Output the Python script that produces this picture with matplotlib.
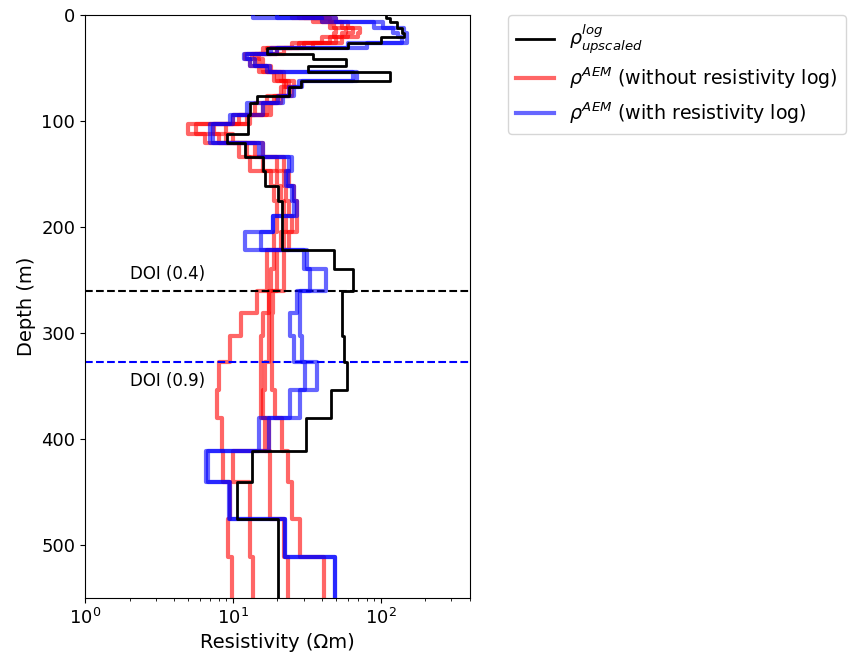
import numpy as np
import matplotlib.pyplot as plt

# layer boundaries (m), shared by the upscaled log and the AEM models
depth_edges = [0, 3, 7, 12, 17, 21, 26, 31, 36.5, 41, 48, 54, 62, 68, 76, 83,
               94, 103, 112, 121, 134, 147, 161, 175, 190, 205, 222, 240, 260,
               281, 303, 327, 354, 380, 411, 441, 475, 511, 550]

# upscaled resistivity log (Ohm m), one value per layer
rho_log = [108, 116, 128, 139, 143, 100, 60, 16.9, 35, 58, 32, 115, 29, 24,
           14.5, 13, 12.7, 12.7, 9.1, 12, 16, 16.5, 20.3, 21.4, 21.4, 21.4,
           48, 65, 54.6, 54.6, 56, 59, 46, 31, 13.5, 10.7, 20.3, 20.3]

# AEM inversions without the resistivity log
rho_aem_nolog = [
    [25, 40, 55, 65, 60, 45, 25, 17, 12, 13, 15, 19, 24, 24, 19, 14, 10, 5.0,
     6.5, 11, 13, 18, 19, 20, 20, 19, 17, 17, 14.5, 11.4, 9.5, 8.0, 7.8, 8.4,
     8.6, 9.5, 9.3, 9.8],
    [30, 45, 60, 72, 70, 55, 30, 20, 13.5, 14, 17, 21, 22, 22, 17, 16, 11, 5.6,
     8, 12.5, 16, 20, 21, 22, 23, 21, 19, 18, 17.4, 16, 15.5, 15.5, 15.5, 17.4,
     10, 13, 13, 13.7],
    [35, 50, 48, 58, 55, 40, 35, 16, 14, 15, 18, 20, 26, 21, 21, 18, 13, 7.5,
     9, 14, 20, 22, 23, 24, 25, 22, 20, 20, 17.4, 17.4, 17.4, 16.5, 16, 16.5,
     17.8, 17.8, 22, 23.7],
    [28, 35, 45, 50, 48, 50, 28, 22, 15, 16, 16, 22, 23, 25, 20, 17, 12.5, 9,
     10, 16, 22, 24, 26, 27, 27, 24, 22, 22, 18.8, 18.3, 18.3, 18.5, 19.3, 21.4,
     23.7, 25, 28.5, 41],
]

# AEM inversions constrained by the resistivity log
rho_aem_log = [
    [13.7, 50, 104, 143, 150, 150, 60, 20, 11.8, 13, 17.8, 69, 29.2, 25.7,
     20.3, 12.4, 9.5, 7, 7, 15, 25, 23.7, 25.7, 27, 18.8, 12.1, 30, 33, 27,
     24.4, 25.7, 30.8, 24.4, 14.9, 6.6, 9.4, 22.6, 49.2],
    [20, 40, 90, 120, 130, 140, 80, 18, 12.5, 14, 17, 65, 28, 24, 21.8, 16,
     10, 7.3, 7.3, 16, 24, 23, 25, 26, 18.8, 15.6, 31.5, 42.7, 28.5, 28.5,
     29.2, 36.9, 28.5, 17.4, 6.8, 9.6, 22.6, 49.2],
]

doi_04 = 260
doi_09 = 327.6


def profile(rho):
    # vertical step profile: each value held over its layer
    y = np.repeat(depth_edges, 2)[1:-1]
    x = np.repeat(rho, 2)
    return x, y


fig = plt.figure(figsize=(8.54, 6.54), dpi=100)
ax = fig.add_axes([0.0995, 0.0856, 0.4508, 0.8914])

x, y = profile(rho_log)
ax.plot(x, y, color='black', lw=2, zorder=4, label=r'$\rho^{log}_{upscaled}$')

for i, rho in enumerate(rho_aem_nolog):
    x, y = profile(rho)
    ax.plot(x, y, color='red', lw=3, alpha=0.6, zorder=2,
            label=r'$\rho^{AEM}$ (without resistivity log)' if i == 0 else None)

for i, rho in enumerate(rho_aem_log):
    x, y = profile(rho)
    ax.plot(x, y, color='blue', lw=3, alpha=0.6, zorder=3,
            label=r'$\rho^{AEM}$ (with resistivity log)' if i == 0 else None)

ax.axhline(doi_04, color='black', ls='--', lw=1.5)
ax.axhline(doi_09, color='blue', ls='--', lw=1.5)
ax.text(2, doi_04 - 16, 'DOI (0.4)', fontsize=12, va='center')
ax.text(2, doi_09 + 18, 'DOI (0.9)', fontsize=12, va='center')

ax.set_xscale('log')
ax.set_xlim(1, 400)
ax.set_ylim(550, 0)
ax.set_yticks([0, 100, 200, 300, 400, 500])
ax.tick_params(labelsize=13)
ax.set_xlabel('Resistivity (\u03a9m)', fontsize=14)
ax.set_ylabel('Depth (m)', fontsize=14)

ax.legend(loc='upper left', bbox_to_anchor=(1.1, 1.0), borderaxespad=0,
          fontsize=13.7)

fig.savefig('out.png', dpi=100)
